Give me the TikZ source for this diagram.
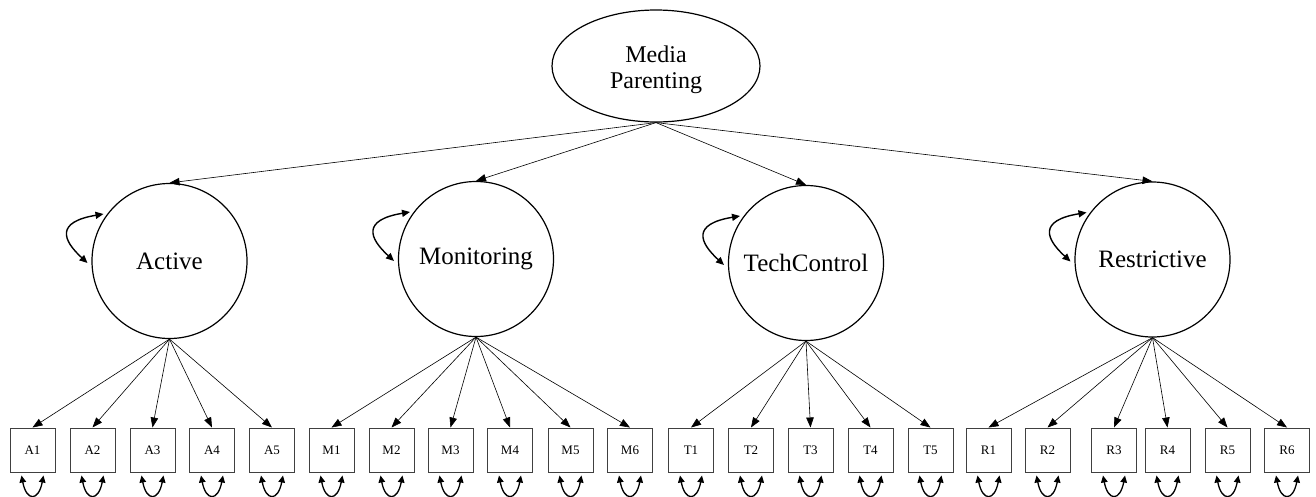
\documentclass[tikz,border=0pt]{standalone}
\usepackage{fontspec}
\setmainfont{Liberation Serif}
\usetikzlibrary{arrows.meta,shapes.geometric,calc}

\tikzset{
  latent/.style={circle, draw, line width=1.2pt, minimum size=155pt, inner sep=0pt,
    font=\fontsize{25}{30}\selectfont},
  higher/.style={ellipse, draw, line width=1.2pt, minimum width=208pt, minimum height=112pt,
    inner sep=0pt},
  highertext/.style={align=center, inner sep=0pt, font=\fontsize{24}{26.5}\selectfont},
  indicator/.style={rectangle, draw=black!75, line width=1pt, minimum width=45pt,
    minimum height=44pt, inner sep=0pt, font=\fontsize{13}{15}\selectfont},
  loading/.style={line width=0.6pt, -{Triangle[length=10pt,width=7.5pt]}},
  varloop/.style={line width=1.4pt, {Triangle[length=8pt,width=7pt]}-{Triangle[length=8pt,width=7pt]}},
  errloop/.style={line width=1.3pt, {Triangle[length=7pt,width=6.5pt]}-{Triangle[length=7pt,width=6.5pt]}}
}

\begin{document}
\begin{tikzpicture}[x=1pt,y=-1pt]
\useasboundingbox (0,0) rectangle (1316,496);

% second-order factor
\node[higher, label={[highertext, yshift=-4pt]center:{Media\\Parenting}}] (mp) at (656,66) {};

% first-order factors
\node[latent] (act) at (169.5,261) {Active};
\node[latent] (mon) at (476,259) {Monitoring};
\node[latent] (tec) at (806,263) {TechControl};
\node[latent] (res) at (1152.5,259.5) {Restrictive};

\foreach \f in {act,mon,tec,res}{
  \draw[loading] (mp.south) -- (\f.north);
  \draw[varloop] ($(\f.center)+(-66,-47)$) .. controls +(-48,8) and +(-25,-23) .. ($(\f.center)+(-82,2)$);
}

% indicators: name/x-centre/factor
\foreach \n/\x/\f in {A1/32.5/act, A2/92.5/act, A3/152.5/act, A4/212/act, A5/272/act,
                      M1/331.5/mon, M2/391.5/mon, M3/450.5/mon, M4/510/mon, M5/570.5/mon, M6/630/mon,
                      T1/691/tec, T2/751/tec, T3/810.5/tec, T4/870.5/tec, T5/930.5/tec,
                      R1/988.5/res, R2/1047.5/res, R3/1114/res, R4/1167.5/res, R5/1227.5/res, R6/1287/res}{
  \node[indicator] (\n) at (\x,450) {\n};
  \draw[loading] (\f.south) -- (\n.north);
  \draw[errloop] ($(\n.south)+(-11,3)$) .. controls +(5,26) and +(-5,26) .. ($(\n.south)+(11,3)$);
}
\end{tikzpicture}
\end{document}
